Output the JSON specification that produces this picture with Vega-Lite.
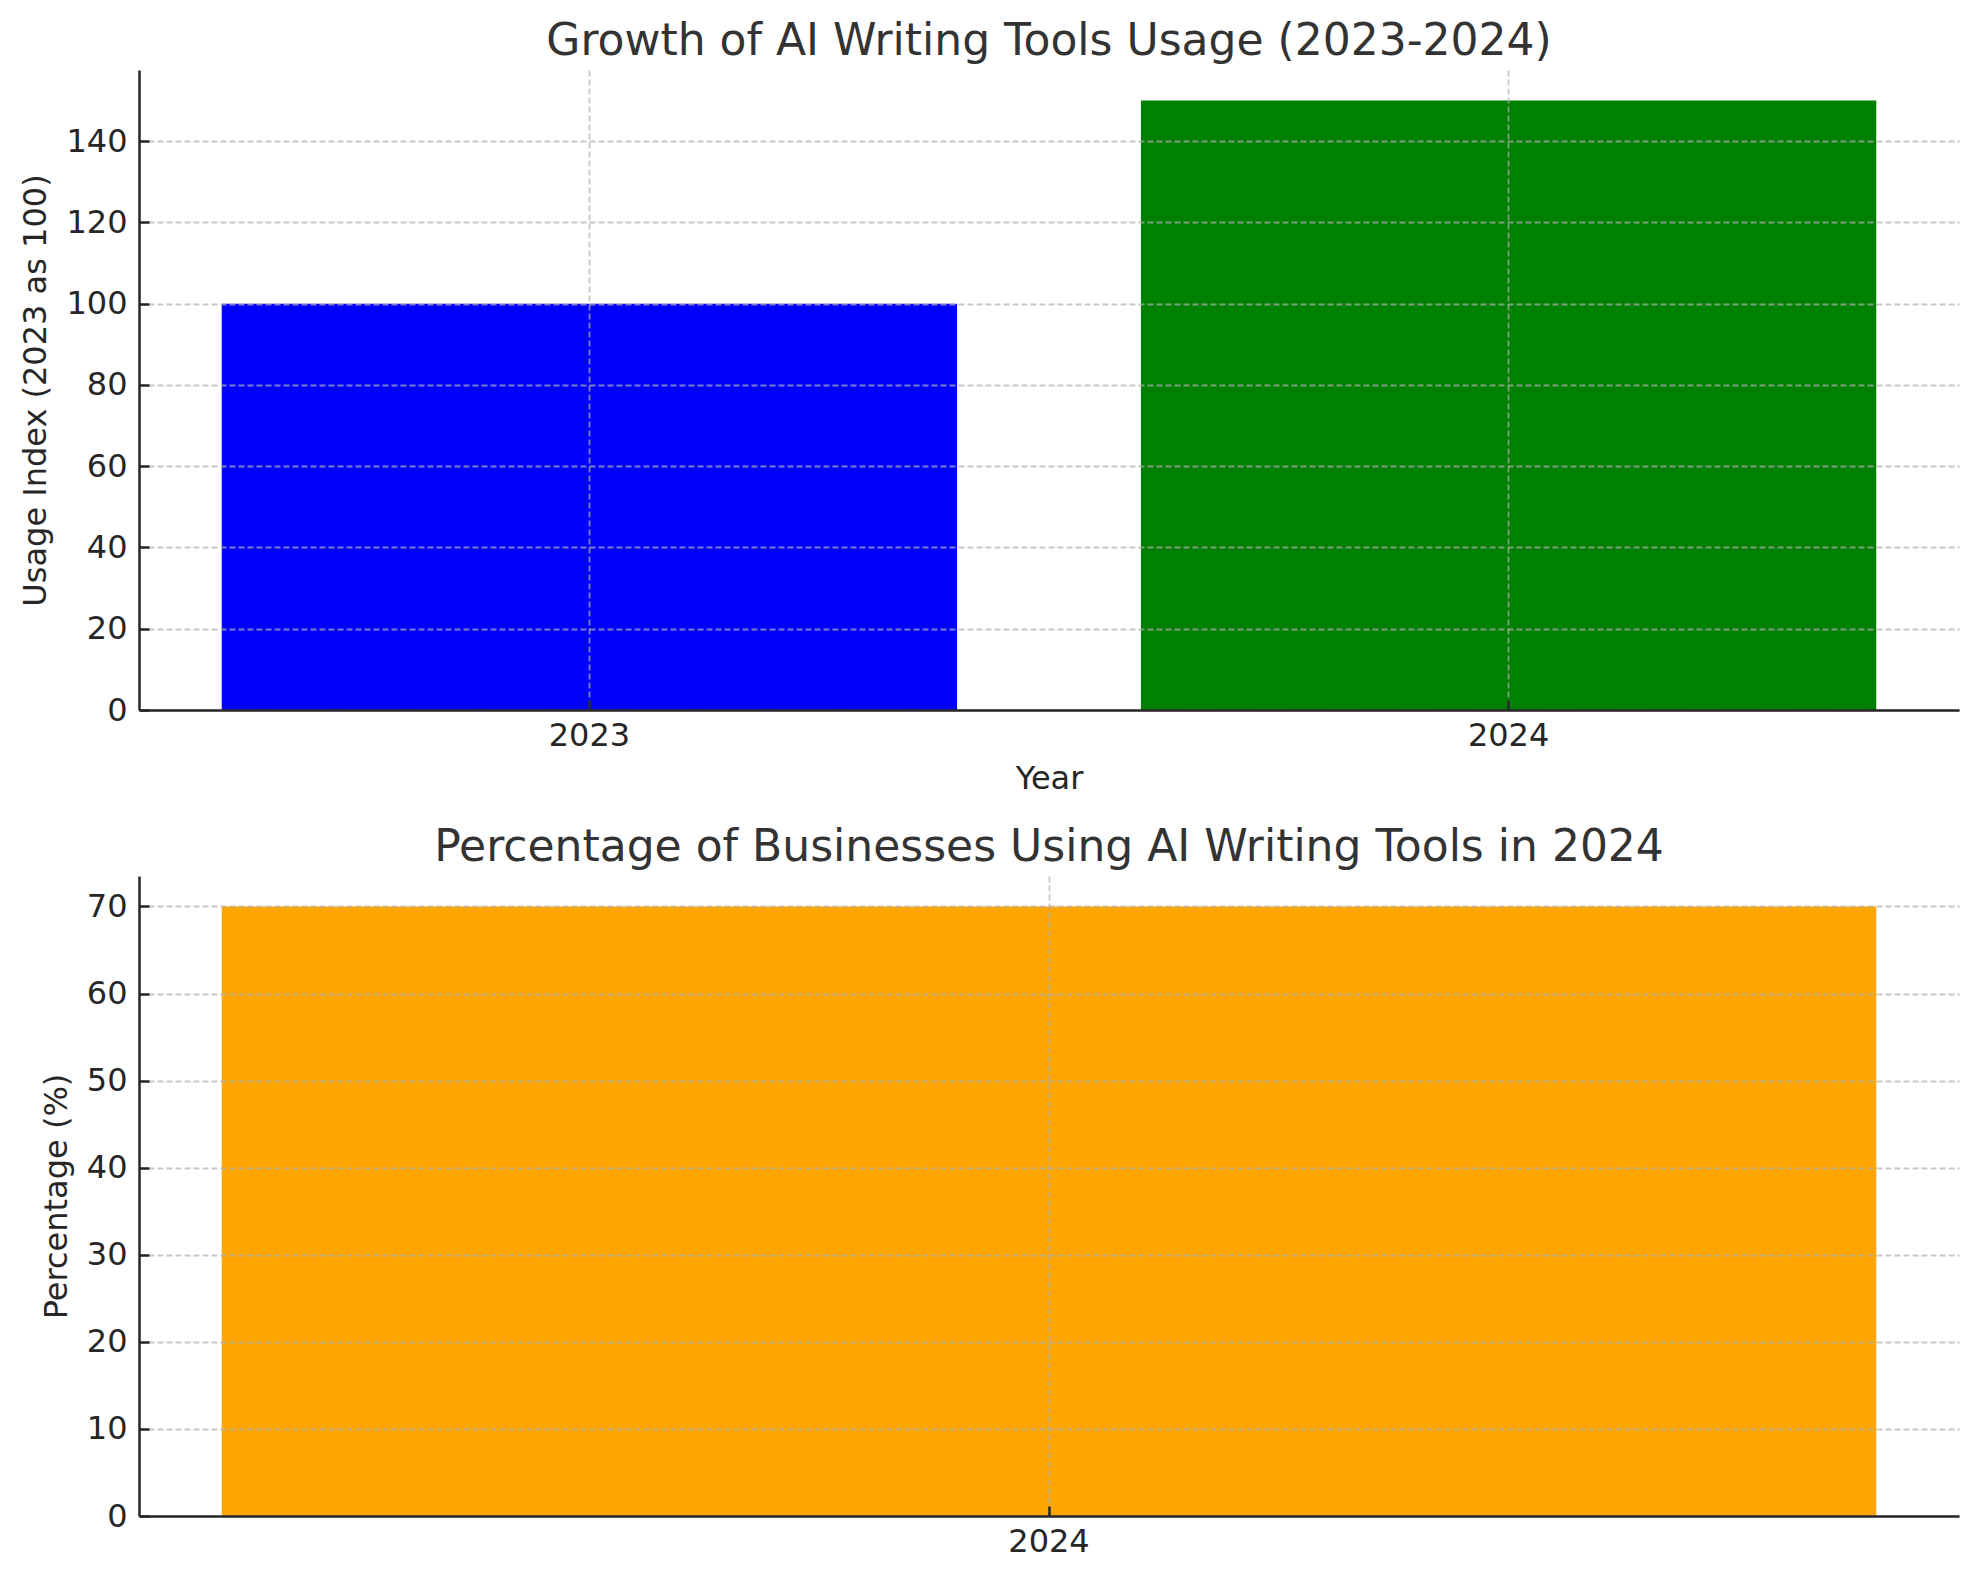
{
  "$schema": "https://vega.github.io/schema/vega-lite/v6.json",
  "background": "white",
  "padding": {"left": 19, "top": 20, "right": 20, "bottom": 10},
  "bounds": "flush",
  "spacing": 166,
  "config": {
    "view": {"stroke": null},
    "font": "DejaVu Sans",
    "axis": {
      "labelFont": "DejaVu Sans", "labelFontSize": 32, "labelColor": "#262626",
      "titleFont": "DejaVu Sans", "titleFontSize": 32, "titleColor": "#262626", "titleFontWeight": "normal",
      "domainColor": "#262626", "domainWidth": 2.5,
      "tickColor": "#262626", "tickWidth": 2.5, "tickSize": -10,
      "gridColor": "#b0b0b0", "gridOpacity": 0.7, "gridDash": [6, 3], "gridWidth": 1.8,
      "zindex": 1
    },
    "axisX": {"labelPadding": 20, "titlePadding": 12, "labelAngle": 0, "bandPosition": 0.5},
    "axisY": {"labelPadding": 22, "titlePadding": 13},
    "title": {"font": "DejaVu Sans", "fontSize": 44, "fontWeight": "normal", "color": "#333333", "offset": 6, "anchor": "middle"}
  },
  "vconcat": [
    {
      "width": 1820,
      "height": 640,
      "title": "Growth of AI Writing Tools Usage (2023-2024)",
      "data": {"values": [
        {"year": "2023", "usage": 100},
        {"year": "2024", "usage": 150}
      ]},
      "mark": {"type": "bar"},
      "encoding": {
        "x": {"field": "year", "type": "nominal", "title": "Year",
              "scale": {"paddingInner": 0.2, "paddingOuter": 0.09},
              "axis": {"grid": true, "zindex": 1}},
        "y": {"field": "usage", "type": "quantitative", "title": "Usage Index (2023 as 100)",
              "scale": {"domain": [0, 157.5], "nice": false},
              "axis": {"values": [0, 20, 40, 60, 80, 100, 120, 140], "grid": true, "zindex": 1}},
        "color": {"field": "year", "type": "nominal", "legend": null,
                  "scale": {"domain": ["2023", "2024"], "range": ["#0000ff", "#008000"]}}
      }
    },
    {
      "width": 1820,
      "height": 640,
      "title": "Percentage of Businesses Using AI Writing Tools in 2024",
      "data": {"values": [
        {"year": "2024", "pct": 70}
      ]},
      "mark": {"type": "bar", "color": "#ffa500"},
      "encoding": {
        "x": {"field": "year", "type": "nominal", "title": null,
              "scale": {"paddingInner": 0.2, "paddingOuter": 0.04},
              "axis": {"grid": true, "zindex": 1}},
        "y": {"field": "pct", "type": "quantitative", "title": "Percentage (%)",
              "scale": {"domain": [0, 73.5], "nice": false},
              "axis": {"values": [0, 10, 20, 30, 40, 50, 60, 70], "grid": true, "zindex": 1}}
      }
    }
  ]
}
